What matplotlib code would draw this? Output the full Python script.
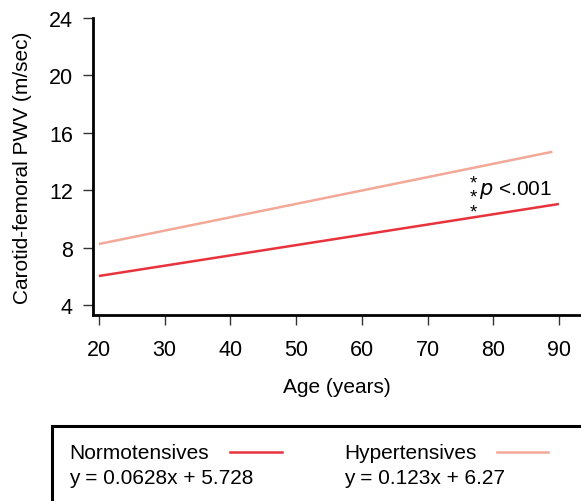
import matplotlib.pyplot as plt
from matplotlib.patches import Rectangle
from matplotlib.lines import Line2D

plt.rcParams['font.family'] = ['Liberation Sans', 'DejaVu Sans']

# fitted lines (end points)
normo_age = [20, 90]
normo_pwv = [6.02, 11.04]
hyper_age = [20, 89]
hyper_pwv = [8.25, 14.68]

normo_label = 'Normotensives'
hyper_label = 'Hypertensives'
normo_eq = 'y = 0.0628x + 5.728'
hyper_eq = 'y = 0.123x + 6.27'

xticks = [20, 30, 40, 50, 60, 70, 80, 90]
yticks = [4, 8, 12, 16, 20, 24]

red = '#e8323c'
pink = '#f4a898'
fs = 15

fig = plt.figure(figsize=(5.81, 5.02), dpi=100)
ax = fig.add_axes([0.160, 0.3705, 0.84, 0.5915])

ax.plot(normo_age, normo_pwv, color=red, lw=1.8, solid_capstyle='butt')
ax.plot(hyper_age, hyper_pwv, color=pink, lw=1.8, solid_capstyle='butt')

ax.set_xlim(19.09, 93.35)
ax.set_ylim(3.3, 24)
ax.set_xticks(xticks)
ax.set_yticks(yticks)
ax.tick_params(labelsize=15.5, width=1, length=7.5, color='#333333')
ax.tick_params(axis='y', pad=7)
ax.tick_params(axis='x', pad=10)
for s in ['top', 'right']:
    ax.spines[s].set_visible(False)
for s in ['left', 'bottom']:
    ax.spines[s].set_linewidth(2)

ax.set_xlabel('Age (years)', fontsize=fs, labelpad=12)
ax.set_ylabel('Carotid-femoral PWV (m/sec)', fontsize=fs, labelpad=12)

# significance marks (one text, three stacked asterisks)
ax.text(77.0, 11.5, '*\n*\n*', fontsize=13.5, ha='center', va='center',
        linespacing=0.82)
ax.text(77.8, 12.1, r'$\it{p}$ <.001', fontsize=fs, ha='left', va='center')

# legend box
box = Rectangle((52 / 581, -0.05), 0.95, 1 - 427 / 502 + 0.05,
                transform=fig.transFigure, fill=False, lw=2.2,
                edgecolor='black', clip_on=False)
fig.patches.append(box)

def fy(py):
    return 1 - py / 502

def fx(px):
    return px / 581

fig.text(fx(69), fy(454), normo_label, fontsize=fs, va='center')
fig.text(fx(69), fy(479), normo_eq, fontsize=fs, va='center')
fig.text(fx(344), fy(454), hyper_label, fontsize=fs, va='center')
fig.text(fx(344), fy(479), hyper_eq, fontsize=fs, va='center')
fig.add_artist(Line2D([fx(230), fx(282)], [fy(452.5), fy(452.5)], color=red, lw=1.8))
fig.add_artist(Line2D([fx(497), fx(548)], [fy(452.5), fy(452.5)], color=pink, lw=1.8))

fig.savefig('out.png', dpi=100)
